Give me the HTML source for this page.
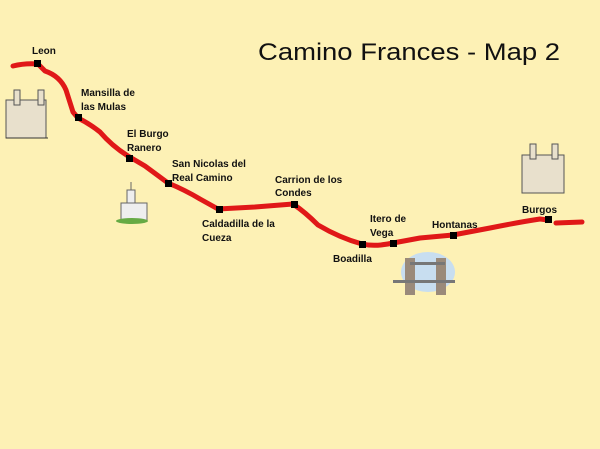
<!DOCTYPE html>
<html><head><style>
body{margin:0;background:#fdf1b5;}
svg{display:block}
text{font-family:"Liberation Sans",Arial,sans-serif;}
.l{font-size:10px;font-weight:bold;fill:#111}
</style></head><body>
<svg width="600" height="449" viewBox="0 0 600 449">
<rect width="600" height="449" fill="#fdf1b5"/>
<text x="258" y="60" font-size="24" fill="#111" textLength="302" lengthAdjust="spacingAndGlyphs">Camino Frances - Map 2</text>
<g fill="none" stroke="#e01818" stroke-width="5" stroke-linecap="round" stroke-linejoin="round">
<path d="M13,66 Q25,63 38,64 L45,71 Q60,76 66,90 L73,112 L78,118 Q90,124 100,132 Q112,146 128,156 L145,166 L168,183 Q185,190 200,199 L218,209 L255,207 L293,204 Q305,212 318,225 Q340,238 362,244 Q375,247 393,243 L420,238 L453,235 L490,228 Q520,222 540,219 L548,220"/>
<path d="M556,223 L582,222"/>
</g>
<g fill="#000">
<rect x="34" y="60" width="7" height="7"/>
<rect x="75" y="114" width="7" height="7"/>
<rect x="126" y="155" width="7" height="7"/>
<rect x="165" y="180" width="7" height="7"/>
<rect x="216" y="206" width="7" height="7"/>
<rect x="291" y="201" width="7" height="7"/>
<rect x="359" y="241" width="7" height="7"/>
<rect x="390" y="240" width="7" height="7"/>
<rect x="450" y="232" width="7" height="7"/>
<rect x="545" y="216" width="7" height="7"/>
</g>
<text class="l" x="32" y="54">Leon</text>
<text class="l" x="81" y="96">Mansilla de</text>
<text class="l" x="81" y="110">las Mulas</text>
<text class="l" x="127" y="137">El Burgo</text>
<text class="l" x="127" y="151">Ranero</text>
<text class="l" x="172" y="167">San Nicolas del</text>
<text class="l" x="172" y="181">Real Camino</text>
<text class="l" x="275" y="183">Carrion de los</text>
<text class="l" x="275" y="196">Condes</text>
<text class="l" x="202" y="227">Caldadilla de la</text>
<text class="l" x="202" y="241">Cueza</text>
<text class="l" x="333" y="262">Boadilla</text>
<text class="l" x="370" y="222">Itero de</text>
<text class="l" x="370" y="236">Vega</text>
<text class="l" x="432" y="228">Hontanas</text>
<text class="l" x="522" y="213">Burgos</text>
<g stroke="#555" stroke-width="1" fill="#e8e0cc">
<rect x="6" y="100" width="40" height="38"/>
<rect x="14" y="90" width="6" height="15"/><rect x="38" y="90" width="6" height="15"/>
<path d="M6,138 L48,138" stroke="#333"/>
</g>
<g stroke="#555" stroke-width="1" fill="#e8e0cc">
<rect x="522" y="155" width="42" height="38"/>
<rect x="530" y="144" width="6" height="15"/><rect x="552" y="144" width="6" height="15"/>
</g>
<g stroke="#666" fill="#eee">
<rect x="127" y="190" width="8" height="14"/>
<path d="M131,182 L131,190"/>
<rect x="121" y="203" width="26" height="18"/>
</g>
<ellipse cx="132" cy="221" rx="16" ry="3" fill="#6a4"/>
<ellipse cx="428" cy="272" rx="27" ry="20" fill="#c8def0"/>
<rect x="405" y="258" width="10" height="37" fill="#9a8a7a"/>
<rect x="436" y="258" width="10" height="37" fill="#9a8a7a"/>
<rect x="410" y="262" width="35" height="3" fill="#777"/>
<rect x="393" y="280" width="62" height="3" fill="#777"/>
</svg>
</body></html>
